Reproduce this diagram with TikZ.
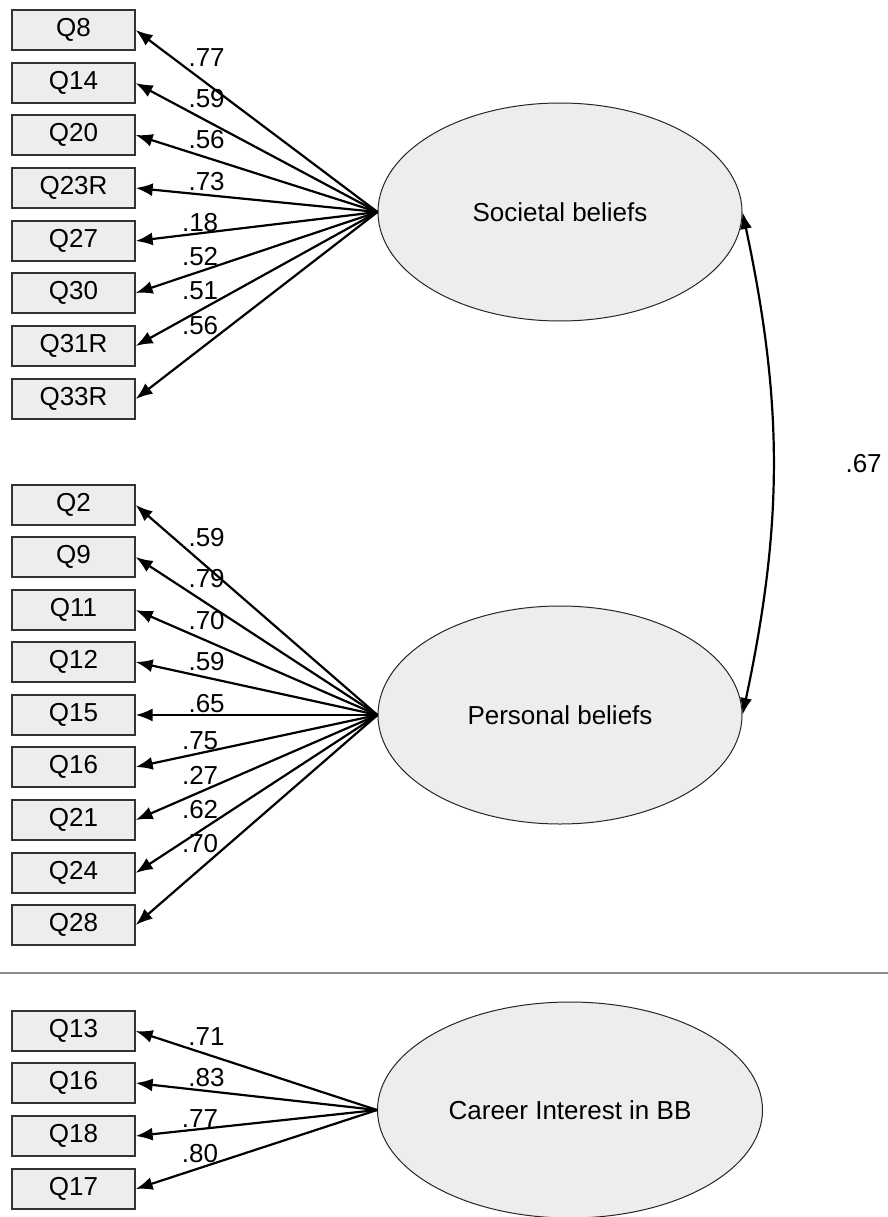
\documentclass[tikz,border=0pt]{standalone}
\usepackage{fontspec}
\setmainfont{Liberation Sans}
\usetikzlibrary{arrows.meta,shapes.geometric,positioning}

\begin{document}
\begin{tikzpicture}[x=1pt,y=-1pt,
    nodes={font=\fontsize{26}{31}\selectfont},
    item/.style={draw=black!80,fill=black!7,line width=1.3pt,minimum width=123pt,minimum height=40pt,inner sep=0pt},
    factor/.style={ellipse,draw=black!85,fill=black!7,line width=1pt,inner sep=0pt,minimum height=218pt},
    load/.style={line width=2.2pt,-{Latex[length=17pt,width=13pt]}},
    wup/.style={pos=.79,anchor=south west,inner sep=1pt},
    wdn/.style={pos=.65,anchor=south east,inner sep=1pt,yshift=-3pt},
    corr/.style={line width=2.2pt,{Latex[length=17pt,width=12pt]}-{Latex[length=17pt,width=12pt]}}]
    \useasboundingbox (0,0) rectangle (888,1217);
    % societal beliefs
    \node[factor,minimum width=364pt] (sb) at (560,212) {Societal beliefs};
    \node[item] (s8) at (73.5,30) {Q8};
    \node[item] (s14) at (73.5,83) {Q14};
    \node[item] (s20) at (73.5,135) {Q20};
    \node[item] (s23) at (73.5,188) {Q23R};
    \node[item] (s27) at (73.5,241) {Q27};
    \node[item] (s30) at (73.5,293) {Q30};
    \node[item] (s31) at (73.5,346) {Q31R};
    \node[item] (s33) at (73.5,399) {Q33R};
    \draw[load] (sb.west) -- (s8.east) node[wup]{.77};
    \draw[load] (sb.west) -- (s14.east) node[wup]{.59};
    \draw[load] (sb.west) -- (s20.east) node[wup]{.56};
    \draw[load] (sb.west) -- (s23.east) node[wup]{.73};
    \draw[load] (sb.west) -- (s27.east) node[wdn]{.18};
    \draw[load] (sb.west) -- (s30.east) node[wdn]{.52};
    \draw[load] (sb.west) -- (s31.east) node[wdn]{.51};
    \draw[load] (sb.west) -- (s33.east) node[wdn]{.56};
    % personal beliefs
    \node[factor,minimum width=364pt] (pb) at (560,715) {Personal beliefs};
    \node[item] (p2) at (73.5,505) {Q2};
    \node[item] (p9) at (73.5,557) {Q9};
    \node[item] (p11) at (73.5,610) {Q11};
    \node[item] (p12) at (73.5,662) {Q12};
    \node[item] (p15) at (73.5,715) {Q15};
    \node[item] (p16) at (73.5,767) {Q16};
    \node[item] (p21) at (73.5,820) {Q21};
    \node[item] (p24) at (73.5,873) {Q24};
    \node[item] (p28) at (73.5,925) {Q28};
    \draw[load] (pb.west) -- (p2.east) node[wup]{.59};
    \draw[load] (pb.west) -- (p9.east) node[wup]{.79};
    \draw[load] (pb.west) -- (p11.east) node[wup]{.70};
    \draw[load] (pb.west) -- (p12.east) node[wup]{.59};
    \draw[load] (pb.west) -- (p15.east) node[wup]{.65};
    \draw[load] (pb.west) -- (p16.east) node[wdn]{.75};
    \draw[load] (pb.west) -- (p21.east) node[wdn]{.27};
    \draw[load] (pb.west) -- (p24.east) node[wdn]{.62};
    \draw[load] (pb.west) -- (p28.east) node[wdn]{.70};
    \draw[corr] (sb.east) to[bend left=12] node[midway,right=68pt]{.67} (pb.east);
    \draw[black!45,line width=1.5pt] (0,973) -- (888,973);
    % career interest
    \node[factor,minimum width=385pt,minimum height=216pt] (ci) at (570,1110) {Career Interest in BB};
    \node[item] (c13) at (73.5,1031) {Q13};
    \node[item] (c16) at (73.5,1083) {Q16};
    \node[item] (c18) at (73.5,1136) {Q18};
    \node[item] (c17) at (73.5,1189) {Q17};
    \draw[load] (ci.west) -- (c13.east) node[wup]{.71};
    \draw[load] (ci.west) -- (c16.east) node[wup]{.83};
    \draw[load] (ci.west) -- (c18.east) node[wdn]{.77};
    \draw[load] (ci.west) -- (c17.east) node[wdn]{.80};
\end{tikzpicture}
\end{document}
